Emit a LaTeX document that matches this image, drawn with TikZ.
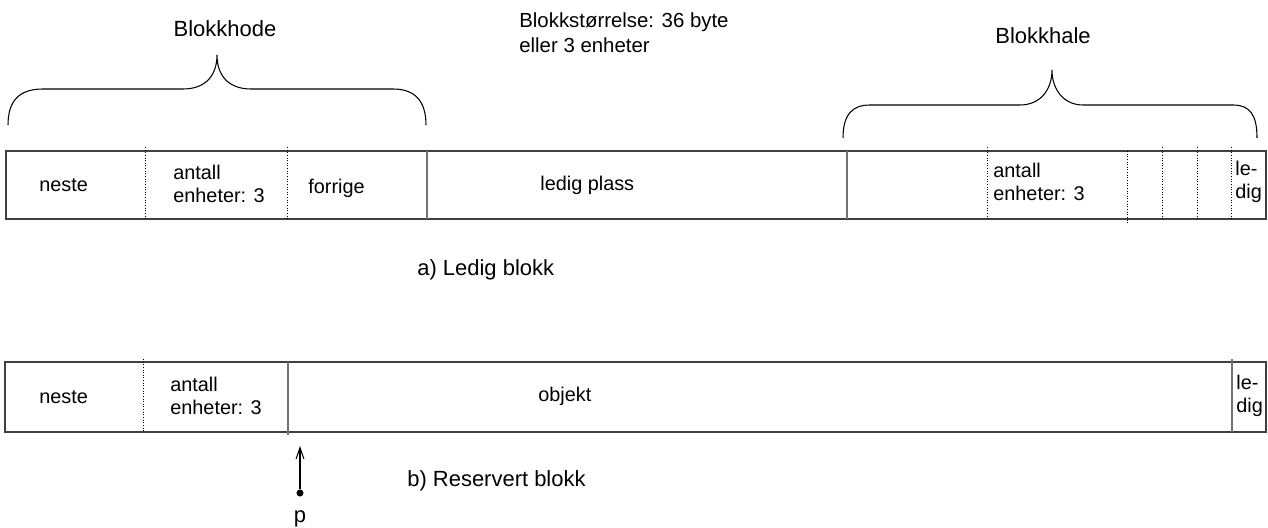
\documentclass[tikz,border=0pt]{standalone}
\usepackage{fontspec}
\setmainfont{Liberation Sans}
\usepackage{tikz}
\usetikzlibrary{arrows.meta}

\tikzset{
  txt/.style = {inner sep = 0pt, align = left, font = \fontsize{11.3}{13}\selectfont},
  bigtxt/.style = {txt, font = \fontsize{12.5}{14}\selectfont},
  frame/.style = {draw = black!75, line width = .6pt},
  solid divider/.style = {draw = black!55, line width = .8pt},
  dot divider/.style = {densely dotted, line width = .5pt},
  brace/.style = {line width = .6pt},
}

\begin{document}
\begin{tikzpicture}[x = .2mm, y = -.2mm]
  \useasboundingbox (0, 0) rectangle (1268, 528);

  % a) ledig blokk
  \draw[frame] (6, 151) rectangle (1266, 219);
  \foreach \x in {145, 287, 987, 1162, 1197, 1231}
  {
  \draw[dot divider] (\x, 147) -- (\x, 219);
  }
  \draw[dot divider] (1127, 151) -- (1127, 223);
  \draw[solid divider] (427, 151) -- (427, 219);
  \draw[solid divider] (847, 151) -- (847, 219);

  \node[txt, anchor = west] at (39, 185) (a-neste) {neste};
  \node[txt, anchor = west] at (173, 184) (a-antall) {antall\\enheter: 3};
  \node[txt, anchor = west] at (308, 188) (a-forrige) {forrige};
  \node[txt, anchor = west] at (540, 185) (a-ledig) {ledig plass};
  \node[txt, anchor = west] at (993, 182) (a-antall2) {antall\\enheter: 3};
  \node[txt, anchor = west] at (1235, 182) (a-ledig2) {le-\\dig};

  % klammer over hode og hale
  \draw[brace] (8, 125) .. controls (8, 100) and (20, 89) .. (43, 89) -- (183, 89)
    .. controls (206, 89) and (217, 75) .. (217, 55)
    .. controls (217, 75) and (228, 89) .. (251, 89) -- (393, 89)
    .. controls (414, 89) and (426, 100) .. (426, 125);
  \draw[brace] (843, 138) .. controls (843, 115) and (852, 105) .. (870, 105) -- (1020, 105)
    .. controls (1040, 105) and (1052, 90) .. (1052, 70)
    .. controls (1052, 90) and (1064, 105) .. (1083, 105) -- (1233, 105)
    .. controls (1250, 105) and (1257, 115) .. (1257, 138);

  \node[bigtxt] at (225, 29) (hode) {Blokkhode};
  \node[bigtxt] at (1043, 36) (hale) {Blokkhale};
  \node[txt, anchor = west, font = \fontsize{11.6}{14}\selectfont] at (519, 33) (str)
    {Blokkst\o rrelse: 36 byte\\eller 3 enheter};
  \node[bigtxt, anchor = west] at (417, 270) (cap-a) {a) Ledig blokk};

  % b) reservert blokk
  \draw[frame] (5, 362) rectangle (1266, 432);
  \draw[dot divider] (143, 359) -- (143, 432);
  \draw[solid divider] (288, 362) -- (288, 435);
  \draw[solid divider] (1232, 359) -- (1232, 432);

  \node[txt, anchor = west] at (39, 397) (b-neste) {neste};
  \node[txt, anchor = west] at (170, 396) (b-antall) {antall\\enheter: 3};
  \node[txt, anchor = west] at (538, 396) (b-objekt) {objekt};
  \node[txt, anchor = west] at (1236, 396) (b-ledig) {le-\\dig};
  \node[bigtxt, anchor = west] at (407, 481) (cap-b) {b) Reservert blokk};

  % peker p
  \node[circle, fill, inner sep = 0pt, minimum size = 4pt] at (300, 493) (p) {};
  \coordinate (p-end) at (300, 446);
  \draw[-{Straight Barb[length = 6.5pt, width = 4.5pt]}, line width = .6pt] (p) -- (p-end);
  \node[bigtxt] at (300, 519) (p-lab) {p};
\end{tikzpicture}
\end{document}
